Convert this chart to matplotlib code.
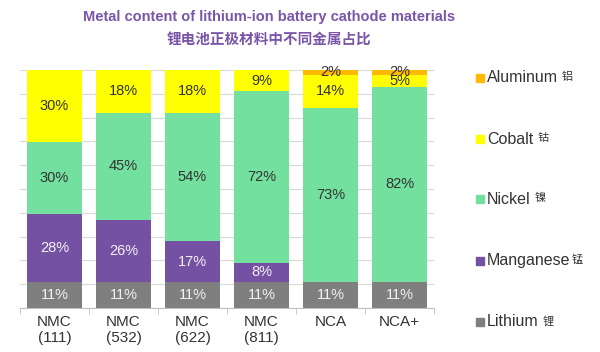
import matplotlib

matplotlib.use("Agg")
import matplotlib.pyplot as plt
import numpy as np
from matplotlib.patches import Rectangle

plt.rcParams["font.family"] = ["Liberation Sans", "Noto Sans CJK SC", "DejaVu Sans"]

categories = ["NMC\n(111)", "NMC\n(532)", "NMC\n(622)", "NMC\n(811)", "NCA", "NCA+"]
lithium = [11, 11, 11, 11, 11, 11]
manganese = [28, 26, 17, 8, 0, 0]
nickel = [30, 45, 54, 72, 73, 82]
cobalt = [30, 18, 18, 9, 14, 5]
aluminum = [0, 0, 0, 0, 2, 2]

series = [
    ("Lithium", "锂", lithium, "#7f7f7f", "#f2f2f2"),
    ("Manganese", "锰", manganese, "#7551a3", "#f2f2f2"),
    ("Nickel", "镍", nickel, "#74e09f", "#333333"),
    ("Cobalt", "钴", cobalt, "#ffff00", "#333333"),
    ("Aluminum", "铝", aluminum, "#ffb900", "#333333"),
]

fig = plt.figure(figsize=(6, 3.52), dpi=100)
fig.patch.set_facecolor("white")
ax = fig.add_axes([0.0333, 0.125, 0.69, 0.676])

x = np.arange(len(categories))
totals = np.sum([s[2] for s in series], axis=0)
bottom = np.zeros(len(categories))
for name, cn, vals, color, tcol in series:
    share = np.array(vals) / totals * 100
    ax.bar(x, share, 0.8, bottom=bottom, color=color, zorder=2)
    for i, (v, s) in enumerate(zip(vals, share)):
        if v > 0:
            ax.text(x[i], bottom[i] + s / 2, f"{v}%", ha="center", va="center",
                    fontsize=10.5, color=tcol, zorder=3)
    bottom += share

ax.set_xlim(-0.5, len(categories) - 0.5)
ax.set_ylim(0, 100)
ax.set_yticks(np.arange(0, 101, 10))
ax.set_yticklabels([])
ax.tick_params(axis="y", length=0)
ax.grid(axis="y", color="#d9d9d9", linewidth=0.8, zorder=0)
ax.set_xticks(x)
ax.set_xticklabels(categories, fontsize=11, color="#333333", linespacing=1.15)
ax.set_xticks(np.arange(-0.5, len(categories), 1), minor=True)
ax.tick_params(axis="x", which="major", length=0, pad=5)
ax.tick_params(axis="x", which="minor", length=4, color="#bfbfbf")
for side in ("top", "right", "left"):
    ax.spines[side].set_visible(False)
ax.spines["bottom"].set_color("#bfbfbf")

# title
fig.text(0.448, 0.952, "Metal content of lithium-ion battery cathode materials",
         ha="center", va="center", fontsize=10.5, fontweight="bold", color="#7a55a8")
fig.text(0.448, 0.89, "锂电池正极材料中不同金属占比", ha="center", va="center",
         fontsize=10.5, fontweight="bold", color="#7a55a8",
         family=["Noto Sans CJK SC", "DejaVu Sans"])

# legend
legend_y = [78, 139, 199, 261, 322]
for (name, cn, vals, color, tcol), ypx in zip(series[::-1], legend_y):
    yf = 1 - ypx / 352
    fig.add_artist(Rectangle((476 / 600, yf - 4 / 352), 8 / 600, 8 / 352,
                             transform=fig.transFigure, color=color))
    t = fig.text(487 / 600, yf, name, ha="left", va="center", fontsize=11.5, color="#333333")
    fig.canvas.draw()
    bb = t.get_window_extent()
    fig.text(bb.x1 / 600 + (4 if name != "Manganese" else 1) / 600, yf + 1 / 352, cn,
             ha="left", va="center", fontsize=8, color="#333333",
             family=["Noto Sans CJK SC", "DejaVu Sans"])

fig.savefig("out.png", dpi=100, facecolor="white")
